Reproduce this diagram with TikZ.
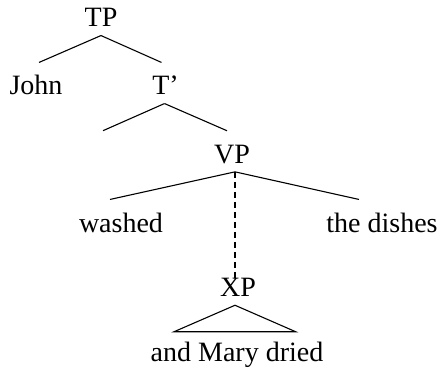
\documentclass[tikz,border=0pt]{standalone}
\usepackage{fontspec}
\setmainfont{Liberation Serif}
\usepackage{tikz}
\usetikzlibrary{arrows}

\begin{document}
\begin{tikzpicture}[x=1pt,y=-1pt,-,line width=1.1pt,
                    word/.style={anchor=base,inner sep=2pt,text height=30pt,text depth=6pt,
                                 font=\fontsize{28}{30}\selectfont}]
\useasboundingbox (0,0) rectangle (438,371);

\node[word] (TP)     at (101,27)    {TP};
\node[word] (John)   at (36,95)     {John};
\node[word] (Tbar)   at (165.5,95)  {T'};
\node[word] (VP)     at (232,163.3) {VP};
\node[word] (washed) at (121,232)   {washed};
\node[word] (dishes) at (382,232)   {the dishes};
\node[word] (XP)     at (238,296.7) {XP};
\node[word] (Mary)   at (237,361.7) {and Mary dried};

\coordinate (T) at (103,130.7);

\path
	(TP.south) edge ([xshift=3pt]John.north)
	(TP.south) edge ([xshift=-4pt]Tbar.north);
\path
	([xshift=-1pt]Tbar.south) edge (T)
	([xshift=-1pt]Tbar.south) edge ([xshift=-5pt]VP.north);
\path
	([xshift=3pt]VP.south) edge ([xshift=-11pt]washed.north)
	([xshift=3pt]VP.south) edge ([xshift=-23pt]dishes.north);

\path
	([xshift=3pt]VP.south) edge[dash pattern=on 6pt off 4pt] ([xshift=-3pt,yshift=-14pt]XP.north);

\draw ([xshift=-3pt]XP.south) -- ([xshift=-63pt,yshift=-2.6pt]Mary.north)
	-- ([xshift=58.7pt,yshift=-2.6pt]Mary.north) -- cycle;

\end{tikzpicture}
\end{document}
